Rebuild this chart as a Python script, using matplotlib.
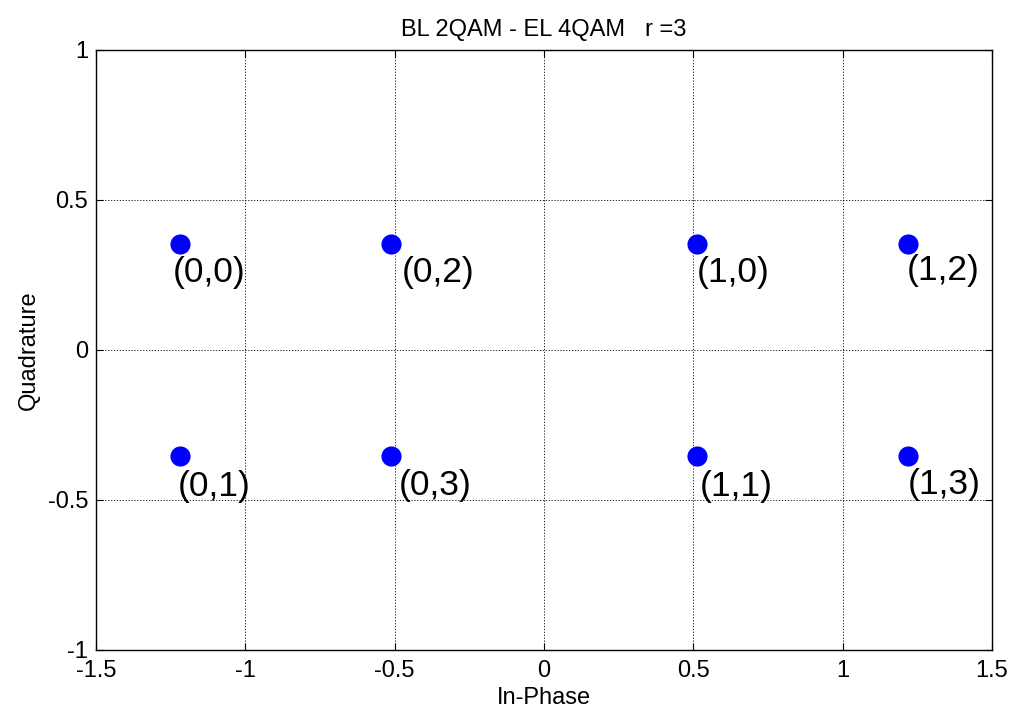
import matplotlib
matplotlib.use("Agg")
import matplotlib.pyplot as plt
import numpy as np

plt.rcParams['font.family'] = ['Liberation Sans', 'DejaVu Sans']

# constellation points
pts_x = [-1.2196, -1.2196, -0.5124, -0.5124, 0.5124, 0.5124, 1.2196, 1.2196]
pts_y = [0.3536, -0.3536, 0.3536, -0.3536, 0.3536, -0.3536, 0.3536, -0.3536]
labels = ["(0,0)", "(0,1)", "(0,2)", "(0,3)", "(1,0)", "(1,1)", "(1,2)", "(1,3)"]
# label offsets (data units) relative to each point
lab_dx = [-0.023, -0.006, 0.037, 0.027, 0.0, 0.010, -0.005, -0.001]
lab_dy = [-0.094, -0.103, -0.094, -0.099, -0.094, -0.103, -0.087, -0.096]

title = "BL 2QAM - EL 4QAM   r =3"
xticks = [-1.5, -1, -0.5, 0, 0.5, 1, 1.5]
yticks = [-1, -0.5, 0, 0.5, 1]
xtick_labels = ["-1.5", "-1", "-0.5", "0", "0.5", "1", "1.5"]
ytick_labels = ["-1", "-0.5", "0", "0.5", "1"]

fig = plt.figure(figsize=(10.12, 7.13), dpi=100)
ax = fig.add_axes([96/1012, 63/713, 896/1012, 600/713])

ax.plot(pts_x, pts_y, 'o', color='#0000ff', markersize=14.5, markeredgewidth=0, zorder=3)
for x, y, dx, dy, lab in zip(pts_x, pts_y, lab_dx, lab_dy, labels):
    ax.text(x + dx, y + dy, lab, fontsize=25.5, ha='left', va='center', color='black', zorder=4)

ax.set_xlim(-1.5, 1.5)
ax.set_ylim(-1, 1)
ax.set_xticks(xticks)
ax.set_xticklabels(xtick_labels)
ax.set_yticks(yticks)
ax.set_yticklabels(ytick_labels)
ax.grid(True, color='black', linestyle=(0, (1.5, 2)), linewidth=0.6)
ax.tick_params(direction='in', length=5, width=0.8, top=True, right=True, labelsize=17)
ax.tick_params(axis='x', pad=7.5)
ax.tick_params(axis='y', pad=5.5)
for s in ax.spines.values():
    s.set_linewidth(1.0)
ax.set_title(title, fontsize=17, pad=10)
ax.set_xlabel("In-Phase", fontsize=17, labelpad=3)
ax.set_ylabel("Quadrature", fontsize=17, labelpad=6)

fig.savefig("out.png", dpi=100)
